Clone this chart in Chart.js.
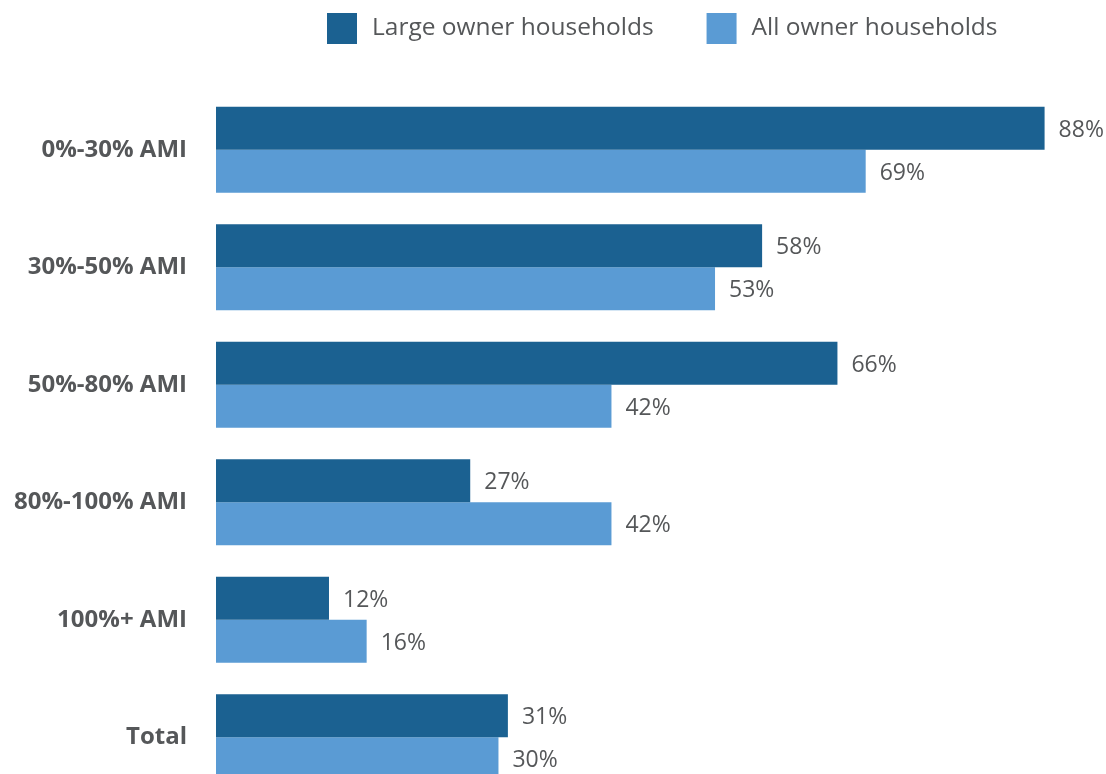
<!DOCTYPE html>
<html>
<head>
<meta charset="utf-8">
<script src="https://cdn.jsdelivr.net/npm/chart.js@4.4.1/dist/chart.umd.min.js"></script>
<style>
    html, body { margin: 0; padding: 0; background: #fff; overflow: hidden; }
    .chart-wrap { position: relative; width: 1106px; height: 800px; }
</style>
</head>
<body>
<div class="chart-wrap">
    <canvas id="owner_cost_burden"></canvas>
</div>
<script>
const incomeLabels = ['0%-30% AMI', '30%-50% AMI', '50%-80% AMI', '80%-100% AMI', '100%+ AMI', 'Total']
const largeOwnerValues = [88, 58, 66, 27, 12, 31]
const allOwnerValues = [69, 53, 42, 42, 16, 30]
const seriesLabels = ['Large owner households', 'All owner households']
const seriesColors = ['#1b6191', '#5a9bd4']

const textColor = '#555759'
const fontFamily = '"Open Sans", "Noto Sans", sans-serif'

// Legend row drawn across the top, left of the bar ends
const legendRow = {
    id: 'legendRow',
    afterDraw(chart) {
        const { ctx } = chart
        ctx.save()
        ctx.font = `24.5px ${fontFamily}`
        ctx.textBaseline = 'middle'
        ctx.textAlign = 'left'
        let x = 327
        chart.data.datasets.forEach((ds) => {
            ctx.fillStyle = ds.backgroundColor
            ctx.fillRect(x, 13, 30, 31)
            ctx.fillStyle = textColor
            ctx.fillText(ds.label, x + 45, 28)
            x += 45 + ctx.measureText(ds.label).width + 53
        })
        ctx.restore()
    }
}

// Percent labels to the right of every bar
const barValueLabels = {
    id: 'barValueLabels',
    afterDatasetsDraw(chart) {
        const { ctx } = chart
        ctx.save()
        ctx.font = `23px ${fontFamily}`
        ctx.fillStyle = textColor
        ctx.textBaseline = 'middle'
        ctx.textAlign = 'left'
        chart.data.datasets.forEach((ds, di) => {
            chart.getDatasetMeta(di).data.forEach((bar, i) => {
                ctx.fillText(ds.data[i] + '%', bar.x + 14, bar.y + 2)
            })
        })
        ctx.restore()
    }
}

document.addEventListener('DOMContentLoaded', () => {
    const ctx = document.querySelector('#owner_cost_burden').getContext('2d')

    new Chart(ctx, {
        type: 'bar',
        data: {
            labels: incomeLabels,
            datasets: [
                {
                    label: seriesLabels[0],
                    data: largeOwnerValues,
                    backgroundColor: seriesColors[0]
                },
                {
                    label: seriesLabels[1],
                    data: allOwnerValues,
                    backgroundColor: seriesColors[1]
                }
            ]
        },
        options: {
            indexAxis: 'y',
            responsive: true,
            maintainAspectRatio: false,
            animation: false,
            categoryPercentage: 0.733,
            barPercentage: 1,
            plugins: {
                legend: { display: false },
                tooltip: { enabled: false }
            },
            scales: {
                x: {
                    display: false,
                    min: 0,
                    max: 89
                },
                y: {
                    grid: { display: false, drawTicks: false },
                    border: { display: false },
                    ticks: {
                        color: textColor,
                        padding: 29,
                        font: { family: fontFamily, size: 24, weight: 'bold' }
                    },
                    afterFit: (scale) => {
                        // fixed label column, no extra room above/below the bars
                        scale.width = 216
                        scale.paddingTop = 0
                        scale.paddingBottom = 0
                    }
                }
            },
            layout: {
                padding: { left: 0, right: 52, top: 91, bottom: 4 }
            }
        },
        plugins: [legendRow, barValueLabels]
    })
})
</script>
</body>
</html>
